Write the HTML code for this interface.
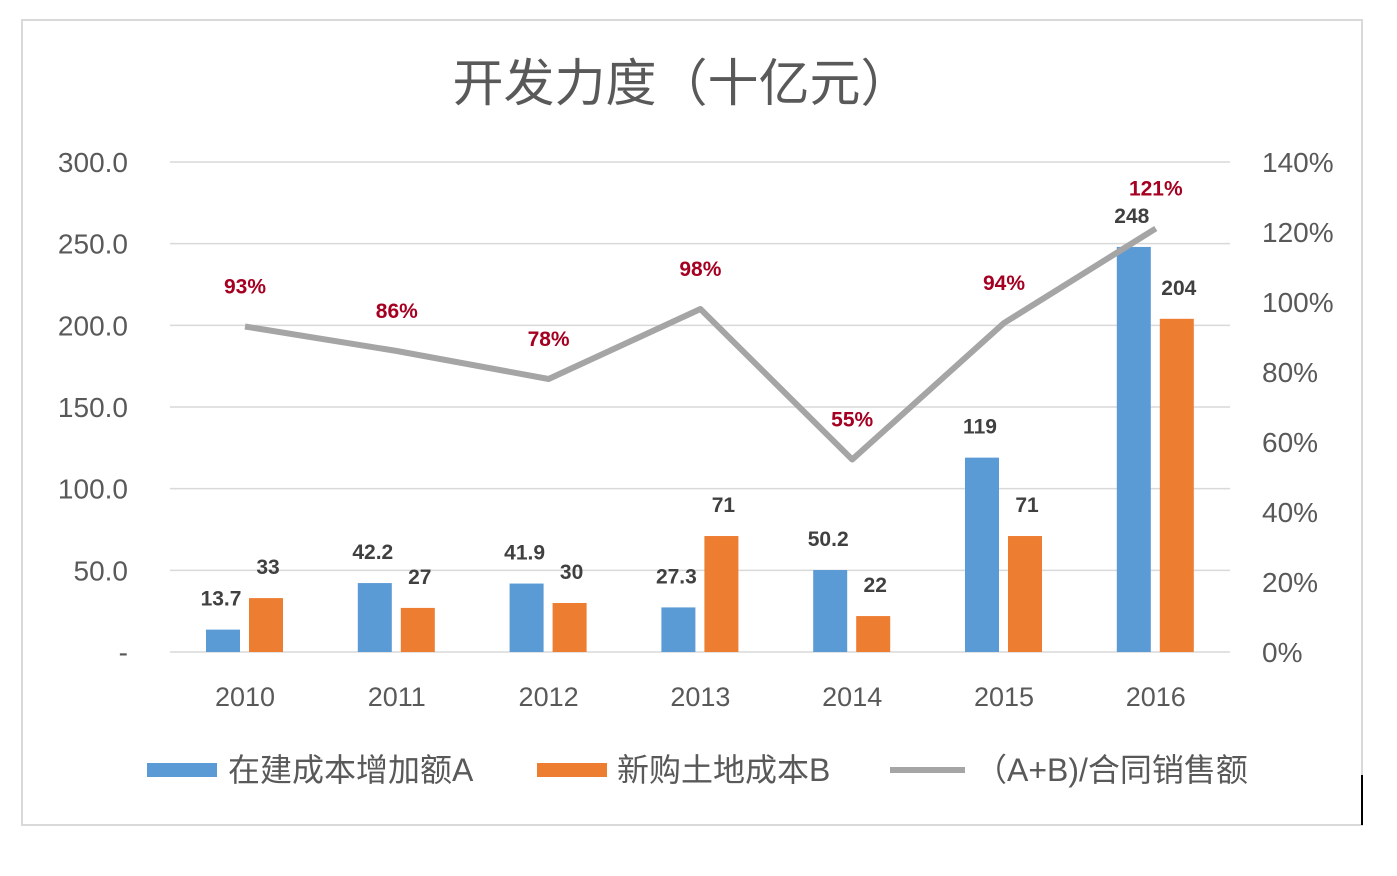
<!DOCTYPE html>
<html><head><meta charset="utf-8"><style>
body{margin:0;background:#fff;}
svg text{font-family:"Liberation Sans","Noto Sans CJK SC",sans-serif;}
</style></head><body>
<svg width="1397" height="871">
<rect x="22" y="20" width="1340" height="805" fill="#fff" stroke="#d9d9d9" stroke-width="2"/>
<line x1="1362" y1="775" x2="1362" y2="825" stroke="#000" stroke-width="2"/>
<text x="682" y="101" text-anchor="middle" font-size="51" fill="#595959">开发力度（十亿元）</text>
<g id="grid"></g><g id="bars"></g><g id="line"></g><g id="labels"></g>
<g>
<rect x="147" y="763" width="70" height="14" fill="#5b9bd5"/>
<text x="228" y="781" font-size="32" fill="#595959">在建成本增加额A</text>
<rect x="537" y="763" width="70" height="14" fill="#ed7d31"/>
<text x="617" y="781" font-size="32" fill="#595959">新购土地成本B</text>
<line x1="890" y1="770" x2="965" y2="770" stroke="#a5a5a5" stroke-width="6"/>
<text x="975" y="781" font-size="32" fill="#595959">（A+B)/合同销售额</text>
</g>
</svg>
<script>
const categories=["2010","2011","2012","2013","2014","2015","2016"];
const seriesA=[13.7,42.2,41.9,27.3,50.2,119,248];
const seriesB=[33,27,30,71,22,71,204];
const ratio=[93,86,78,98,55,94,121];
const leftTicks=["-","50.0","100.0","150.0","200.0","250.0","300.0"];
const rightTicks=["0%","20%","40%","60%","80%","100%","120%","140%"];
const labelsA=["13.7","42.2","41.9","27.3","50.2","119","248"];
const labelsB=["33","27","30","71","22","71","204"];
const NS="http://www.w3.org/2000/svg";
const y0=652,yTop=162;
const yL=v=>y0-(v/300)*(y0-yTop);
const yR=v=>y0-(v/140)*(y0-yTop);
const xC=i=>245+i*151.8;
function mk(tag,attrs,parent,txt){const e=document.createElementNS(NS,tag);for(const k in attrs)e.setAttribute(k,attrs[k]);if(txt!==undefined)e.textContent=txt;document.getElementById(parent).appendChild(e);return e;}
leftTicks.forEach((t,i)=>{const y=yL(i*50);
const g=mk('line',{x1:170,x2:1230,y1:y,y2:y,stroke:'#d9d9d9','stroke-width':1.5},'grid');


const tx=mk('text',{x:128,y:y+10,'text-anchor':'end','font-size':28,fill:'#595959'},'grid',t);

});
rightTicks.forEach((t,i)=>{const y=yR(i*20);
const tx=mk('text',{x:1262,y:y+10,'font-size':28,fill:'#595959'},'grid',t);

});
categories.forEach((c,i)=>{
const tx=mk('text',{x:xC(i),y:706,'text-anchor':'middle','font-size':27,fill:'#595959'},'grid',c);


const xa=xC(i)-39,xb=xC(i)+4,w=34;
const a=mk('rect',{x:xa,y:yL(seriesA[i]),width:w,height:y0-yL(seriesA[i]),fill:'#5b9bd5'},'bars');


const b=mk('rect',{x:xb,y:yL(seriesB[i]),width:w,height:y0-yL(seriesB[i]),fill:'#ed7d31'},'bars');


const la=mk('text',{x:xa+w/2-2,y:yL(seriesA[i])-24,'text-anchor':'middle','font-size':21,'font-weight':'bold',fill:'#404040'},'labels',labelsA[i]);


const lb=mk('text',{x:xb+w/2+2,y:yL(seriesB[i])-24,'text-anchor':'middle','font-size':21,'font-weight':'bold',fill:'#404040'},'labels',labelsB[i]);


const lr=mk('text',{x:xC(i),y:yR(ratio[i])-33,'text-anchor':'middle','font-size':21,'font-weight':'bold',fill:'#a50021'},'labels',ratio[i]+'%');


});
const pl=mk('polyline',{points:ratio.map((v,i)=>xC(i)+','+yR(v)).join(' '),fill:'none',stroke:'#a5a5a5','stroke-width':6,'stroke-linejoin':'round'},'line');


</script>
</body></html>
